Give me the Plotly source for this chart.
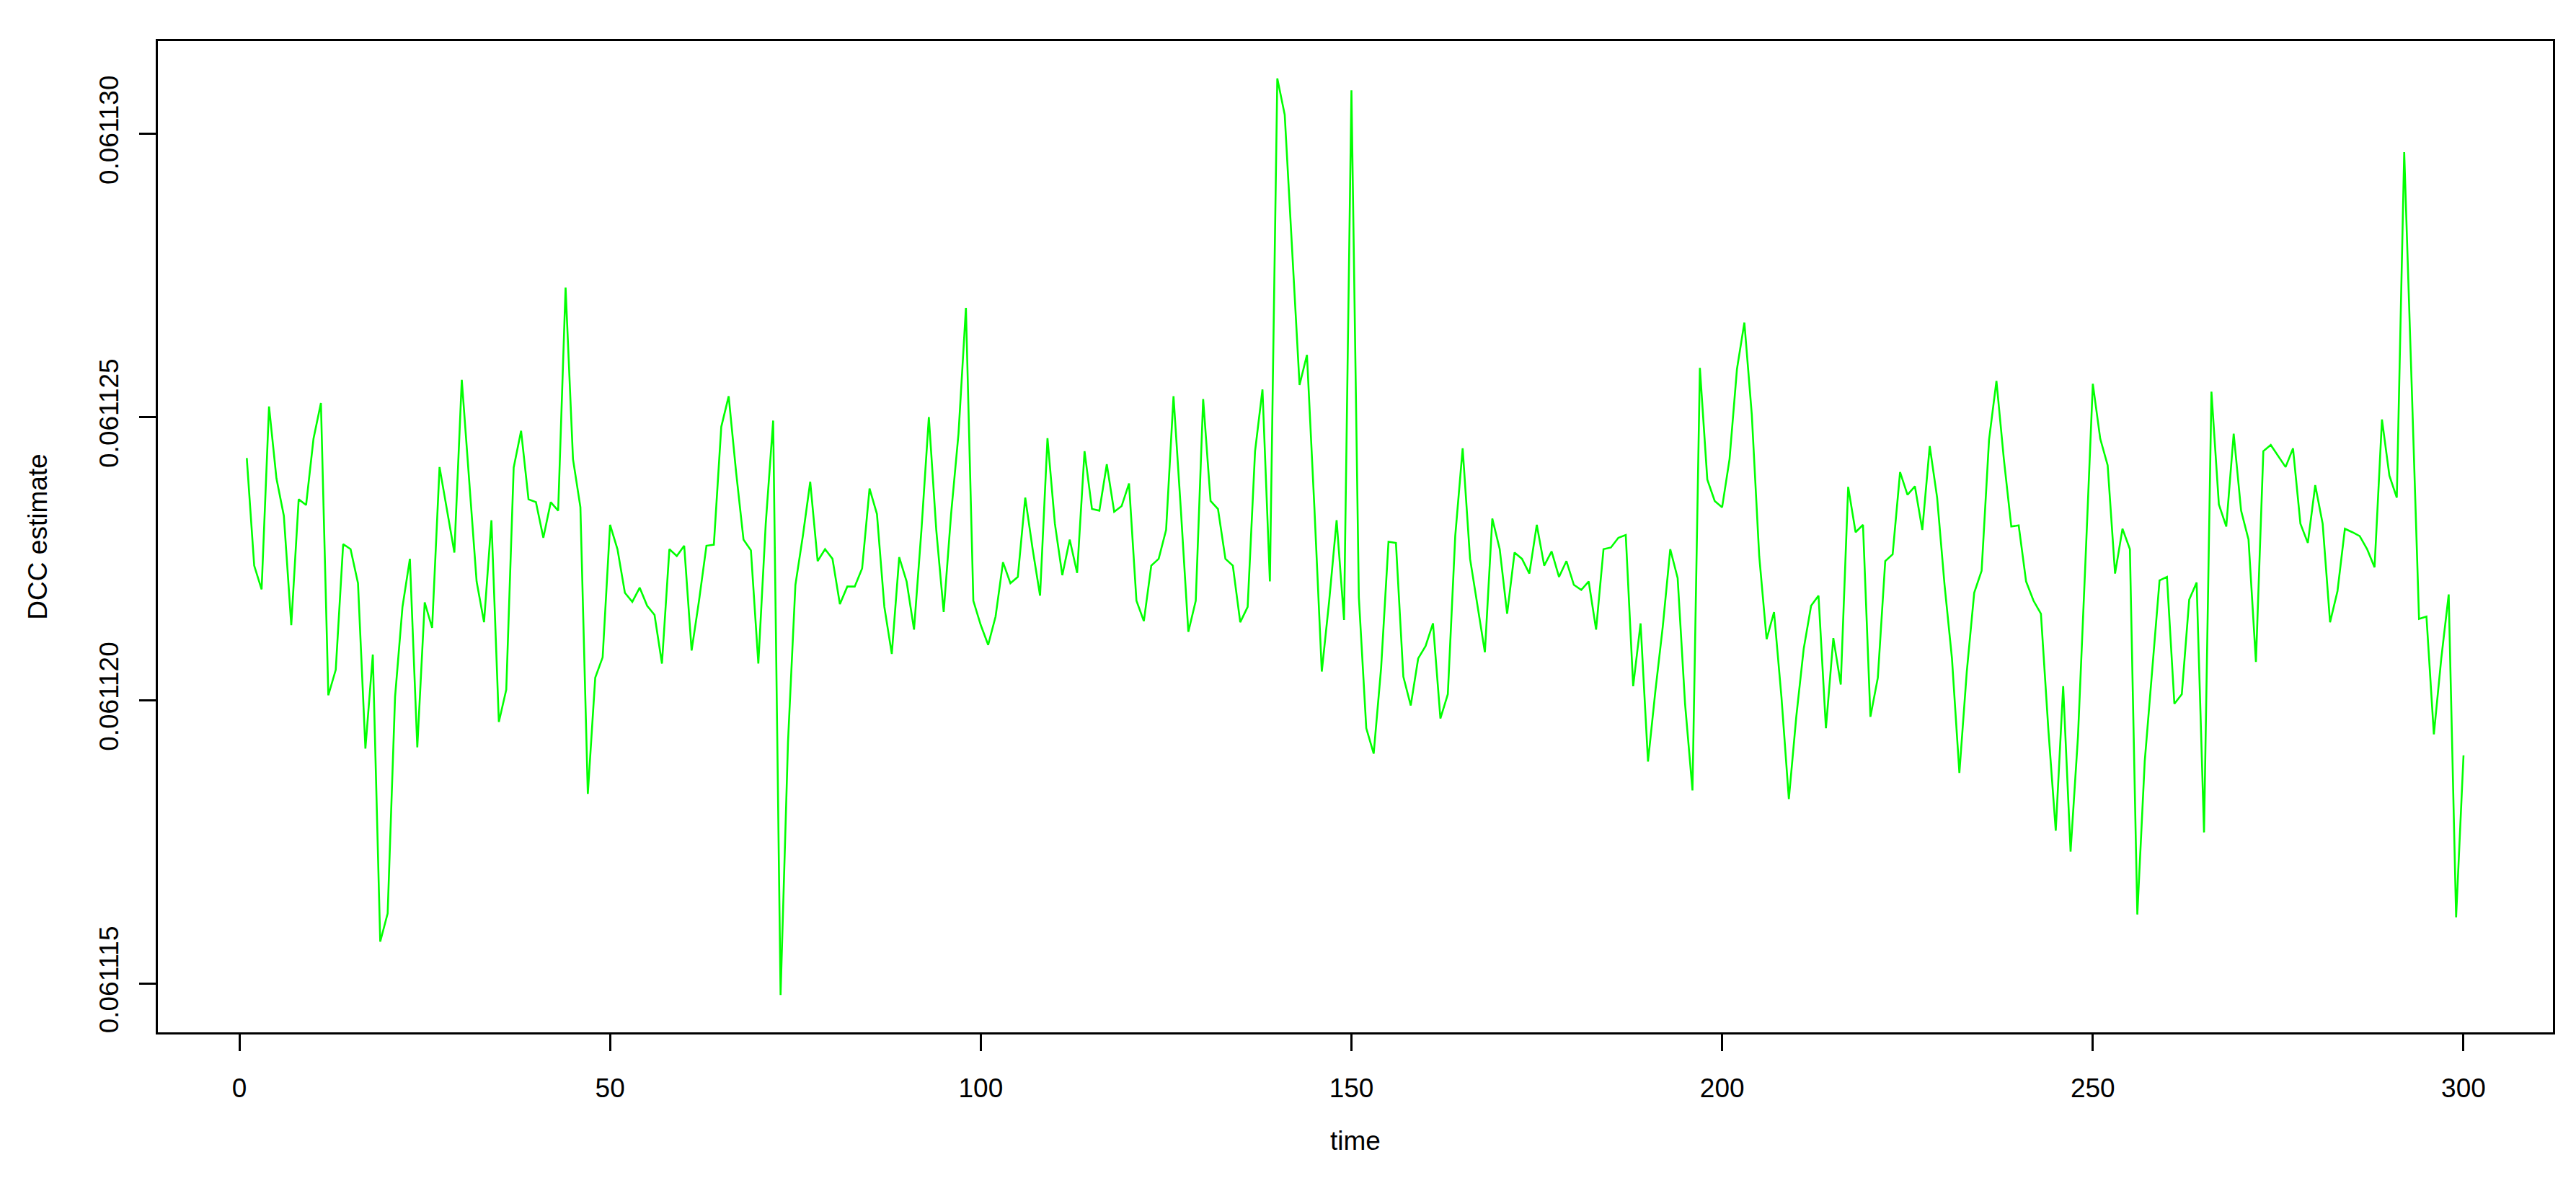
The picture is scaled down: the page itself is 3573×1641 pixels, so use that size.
import plotly.graph_objects as go

time = list(range(1, 301))

dcc = [
    0.06112428, 0.06112238, 0.06112196, 0.06112519, 0.06112392, 0.06112326, 0.06112133, 0.06112355, 0.06112345, 0.06112462,
    0.06112525, 0.06112009, 0.06112054, 0.06112276, 0.06112267, 0.06112207, 0.06111915, 0.06112081, 0.06111574, 0.06111624,
    0.06112006, 0.06112165, 0.06112250, 0.06111917, 0.06112173, 0.06112128, 0.06112412, 0.06112335, 0.06112261, 0.06112566,
    0.06112392, 0.06112210, 0.06112138, 0.06112318, 0.06111962, 0.06112019, 0.06112411, 0.06112476, 0.06112355, 0.06112350,
    0.06112287, 0.06112350, 0.06112335, 0.06112729, 0.06112426, 0.06112341, 0.06111835, 0.06112040, 0.06112076, 0.06112310,
    0.06112267, 0.06112190, 0.06112174, 0.06112199, 0.06112167, 0.06112151, 0.06112065, 0.06112267, 0.06112255, 0.06112273,
    0.06112088, 0.06112176, 0.06112273, 0.06112275, 0.06112483, 0.06112537, 0.06112403, 0.06112284, 0.06112265, 0.06112065,
    0.06112312, 0.06112494, 0.06111480, 0.06111926, 0.06112204, 0.06112290, 0.06112386, 0.06112246, 0.06112267, 0.06112250,
    0.06112170, 0.06112201, 0.06112201, 0.06112233, 0.06112374, 0.06112329, 0.06112165, 0.06112082, 0.06112253, 0.06112210,
    0.06112125, 0.06112301, 0.06112500, 0.06112301, 0.06112156, 0.06112329, 0.06112471, 0.06112693, 0.06112176, 0.06112133,
    0.06112098, 0.06112148, 0.06112244, 0.06112207, 0.06112218, 0.06112358, 0.06112267, 0.06112185, 0.06112463, 0.06112312,
    0.06112221, 0.06112284, 0.06112225, 0.06112440, 0.06112338, 0.06112335, 0.06112417, 0.06112333, 0.06112343, 0.06112383,
    0.06112176, 0.06112140, 0.06112238, 0.06112250, 0.06112301, 0.06112537, 0.06112335, 0.06112121, 0.06112176, 0.06112532,
    0.06112352, 0.06112338, 0.06112250, 0.06112238, 0.06112138, 0.06112165, 0.06112440, 0.06112549, 0.06112210, 0.06113098,
    0.06113034, 0.06112801, 0.06112557, 0.06112610, 0.06112341, 0.06112051, 0.06112176, 0.06112318, 0.06112142, 0.06113077,
    0.06112182, 0.06111951, 0.06111906, 0.06112057, 0.06112280, 0.06112278, 0.06112042, 0.06111991, 0.06112074, 0.06112096,
    0.06112136, 0.06111968, 0.06112011, 0.06112290, 0.06112445, 0.06112250, 0.06112165, 0.06112085, 0.06112321, 0.06112267,
    0.06112153, 0.06112261, 0.06112250, 0.06112224, 0.06112310, 0.06112238, 0.06112263, 0.06112218, 0.06112246, 0.06112204,
    0.06112195, 0.06112210, 0.06112125, 0.06112267, 0.06112270, 0.06112287, 0.06112292, 0.06112025, 0.06112136, 0.06111892,
    0.06112017, 0.06112131, 0.06112267, 0.06112216, 0.06111994, 0.06111841, 0.06112587, 0.06112390, 0.06112352, 0.06112341,
    0.06112426, 0.06112585, 0.06112667, 0.06112505, 0.06112255, 0.06112108, 0.06112156, 0.06112006, 0.06111826, 0.06111971,
    0.06112091, 0.06112167, 0.06112185, 0.06111951, 0.06112110, 0.06112028, 0.06112377, 0.06112297, 0.06112310, 0.06111971,
    0.06112040, 0.06112246, 0.06112258, 0.06112403, 0.06112363, 0.06112378, 0.06112301, 0.06112449, 0.06112358, 0.06112204,
    0.06112074, 0.06111872, 0.06112051, 0.06112190, 0.06112229, 0.06112460, 0.06112564, 0.06112426, 0.06112307, 0.06112309,
    0.06112210, 0.06112176, 0.06112153, 0.06111949, 0.06111770, 0.06112025, 0.06111733, 0.06111937, 0.06112244, 0.06112559,
    0.06112462, 0.06112415, 0.06112224, 0.06112303, 0.06112267, 0.06111622, 0.06111892, 0.06112057, 0.06112212, 0.06112218,
    0.06111994, 0.06112011, 0.06112178, 0.06112208, 0.06111767, 0.06112545, 0.06112346, 0.06112307, 0.06112471, 0.06112335,
    0.06112284, 0.06112068, 0.06112440, 0.06112451, 0.06112432, 0.06112412, 0.06112445, 0.06112312, 0.06112278, 0.06112380,
    0.06112312, 0.06112138, 0.06112193, 0.06112303, 0.06112297, 0.06112290, 0.06112267, 0.06112235, 0.06112496, 0.06112397,
    0.06112358, 0.06112968, 0.06112560, 0.06112144, 0.06112148, 0.06111940, 0.06112074, 0.06112187, 0.06111617, 0.06111903,
]

x_ticks = [0, 50, 100, 150, 200, 250, 300]
y_ticks = [0.061115, 0.061120, 0.061125, 0.061130]
y_tick_labels = ["0.061115", "0.061120", "0.061125", "0.061130"]

FONT = "Liberation Sans, Arial, Helvetica, sans-serif"
FS = 37

fig = go.Figure()
fig.add_trace(go.Scatter(
    x=time, y=dcc, mode="lines",
    line=dict(color="#00FF00", width=2.6),
    showlegend=False, hoverinfo="x+y",
))

axis_common = dict(
    showgrid=False, zeroline=False, automargin=False,
    showline=True, linecolor="black", linewidth=3, mirror=True,
    ticks="outside", ticklen=23, tickwidth=3, tickcolor="black",
    tickfont=dict(family=FONT, size=FS, color="black"),
)

fig.update_layout(
    width=3573, height=1641,
    paper_bgcolor="white", plot_bgcolor="white",
    margin=dict(l=211, r=40, t=49, b=217),
    font=dict(family=FONT, size=FS, color="black"),
    xaxis=dict(
        range=[-10.99, 312.06],
        tickmode="array", tickvals=x_ticks,
        ticktext=[str(v) for v in x_ticks],
        ticklabelstandoff=20,
        title=dict(text="time", font=dict(family=FONT, size=FS), standoff=40),
        **axis_common,
    ),
    yaxis=dict(
        range=[0.06111414, 0.06113164],
        tickmode="array", tickvals=y_ticks, ticktext=y_tick_labels,
        tickangle=-90,
        ticklabelstandoff=14,
        title=dict(text="DCC estimate", font=dict(family=FONT, size=FS), standoff=55),
        **axis_common,
    ),
)

fig.write_html("out.html")
